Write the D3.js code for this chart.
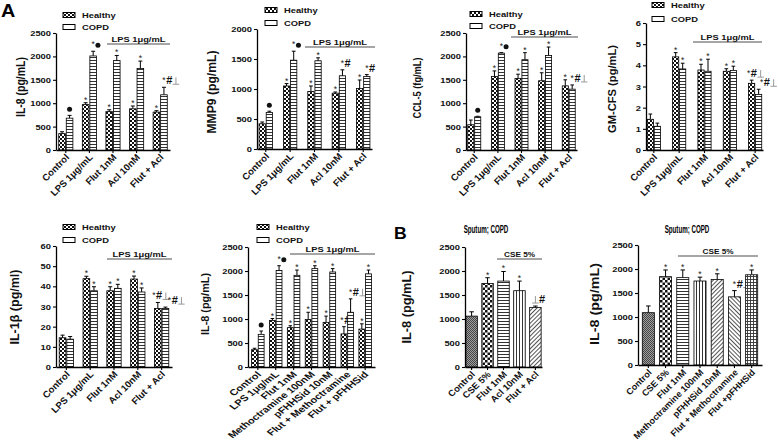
<!DOCTYPE html>
<html><head><meta charset="utf-8">
<script src="https://cdn.jsdelivr.net/npm/d3@7"></script>
<style>body{margin:0;background:#fff}svg{display:block}</style>
</head><body>
<svg id="c" width="778" height="446"></svg>
<script>
// ---------- DATA ----------
const catsA = ["Control","LPS 1μg/mL","Flut 1nM","Acl 10nM","Flut + Acl"];
const catsA6 = ["Control","LPS 1μg/mL","Flut 1nM","Methoctramine 100nM","pFHHSid 10nM","Flut + Methoctramine","Flut + pFHHSid"];
const catsB1 = ["Control","CSE 5%","Flut 1nM","Acl 10nM","Flut + Acl"];
const catsB2 = ["Control","CSE 5%","Flut 1nM","Methoctramine 100nM","pFHHSid 10nM","Flut + Methoctramine","Flut +pFHHSid"];
const seriesNames = ["Healthy","COPD"];

const il8Healthy = [350,970,820,880,810];
const il8HealthyErr = [40,40,40,60,30];
const il8Copd = [680,2010,1910,1740,1180];
const il8CopdErr = [60,100,110,160,160];
const il8HealthyMarks = ["","*","*","*","*"];
const il8CopdMarks = ["●","*●","*","*","*#⊥"];

const mmp9Healthy = [420,1050,960,930,1010];
const mmp9HealthyErr = [30,40,90,20,140];
const mmp9Copd = [610,1480,1470,1220,1210];
const mmp9CopdErr = [20,150,50,100,30];
const mmp9HealthyMarks = ["","*","*","*","*"];
const mmp9CopdMarks = ["●","*●","*","*#","*#"];

const ccl5Healthy = [540,1570,1530,1480,1370];
const ccl5HealthyErr = [100,120,90,170,130];
const ccl5Copd = [710,2070,1930,2020,1300];
const ccl5CopdErr = [10,10,150,180,90];
const ccl5HealthyMarks = ["","*","*","*","*"];
const ccl5CopdMarks = ["●","*●","*","*","*#⊥"];

const gmHealthy = [1.45,4.4,3.78,3.72,3.15];
const gmHealthyErr = [0.25,0.2,0.27,0.12,0.15];
const gmCopd = [1.12,3.83,3.72,3.76,2.62];
const gmCopdErr = [0.15,0.27,0.57,0.2,0.25];
const gmHealthyMarks = ["","*","*","*","*#⊥"];
const gmCopdMarks = ["","*","*","*","*#⊥"];

const il1bHealthy = [14.5,43.8,37.8,43.6,29];
const il1bHealthyErr = [1.3,1.2,2,1.5,3];
const il1bCopd = [13.8,37.8,39,37.2,29];
const il1bCopdErr = [1.3,2,2,2,0.7];
const il1bHealthyMarks = ["","*","*","*","*#⊥"];
const il1bCopdMarks = ["","*","*","*","*#⊥"];

const il8bHealthy = [360,970,820,990,930,690,790];
const il8bHealthyErr = [30,40,40,150,130,150,110];
const il8bCopd = [680,2010,1910,2050,1980,1140,1940];
const il8bCopdErr = [70,100,110,60,70,280,80];
const il8bHealthyMarks = ["","*","*","*","*","*#","*"];
const il8bCopdMarks = ["●","*●","*","*","*","*#⊥","*"];

const sputum1 = [1060,1740,1790,1590,1240];
const sputum1Err = [90,120,200,200,30];
const sputum1Marks = ["","*","*","*","⊥#"];

const sputum2 = [1090,1840,1820,1750,1780,1420,1880];
const sputum2Err = [140,140,160,80,120,130,100];
const sputum2Marks = ["","*","*","*","*","*#⊥","*"];

// ---------- LAYOUT ----------
const FONT = "'Liberation Sans', Arial, Helvetica, sans-serif";
const svg = d3.select("#c").attr("font-family", FONT);
const defs = svg.append("defs");
function pat(id, w, h, draw, tr) {
  const p = defs.append("pattern").attr("id", id).attr("patternUnits", "userSpaceOnUse")
    .attr("width", w).attr("height", h);
  if (tr) p.attr("patternTransform", tr);
  draw(p);
}
pat("healthy", 4, 4, p => {
  p.append("rect").attr("width", 4).attr("height", 4).attr("fill", "#111");
  p.append("rect").attr("width", 2).attr("height", 2).attr("fill", "#fff");
  p.append("rect").attr("x", 2).attr("y", 2).attr("width", 2).attr("height", 2).attr("fill", "#fff");
});
pat("checker", 5, 5, p => {
  p.append("rect").attr("width", 5).attr("height", 5).attr("fill", "#fff");
  p.append("rect").attr("width", 2.5).attr("height", 2.5).attr("fill", "#111");
  p.append("rect").attr("x", 2.5).attr("y", 2.5).attr("width", 2.5).attr("height", 2.5).attr("fill", "#111");
});
pat("horiz", 3, 3, p => {
  p.append("rect").attr("width", 3).attr("height", 3).attr("fill", "#fff");
  p.append("rect").attr("width", 3).attr("height", 1).attr("fill", "#333");
});
pat("vert", 3, 3, p => {
  p.append("rect").attr("width", 3).attr("height", 3).attr("fill", "#fff");
  p.append("rect").attr("width", 1).attr("height", 3).attr("fill", "#333");
});
pat("diag", 3, 3, p => {
  p.append("rect").attr("width", 3).attr("height", 3).attr("fill", "#fff");
  p.append("rect").attr("width", 1).attr("height", 3).attr("fill", "#555");
}, "rotate(45)");
pat("diag2", 3, 3, p => {
  p.append("rect").attr("width", 3).attr("height", 3).attr("fill", "#fff");
  p.append("rect").attr("width", 1).attr("height", 3).attr("fill", "#555");
}, "rotate(-45)");
pat("grid", 3, 3, p => {
  p.append("rect").attr("width", 3).attr("height", 3).attr("fill", "#fff");
  p.append("rect").attr("width", 3).attr("height", 0.9).attr("fill", "#333");
  p.append("rect").attr("width", 0.9).attr("height", 3).attr("fill", "#333");
});
pat("bctrl", 2, 2, p => {
  p.append("rect").attr("width", 2).attr("height", 2).attr("fill", "#a0a0a0");
  p.append("rect").attr("width", 1).attr("height", 1).attr("fill", "#444");
  p.append("rect").attr("x", 1).attr("y", 1).attr("width", 1).attr("height", 1).attr("fill", "#444");
});

const groupPanels = [
  {cats:catsA, h:il8Healthy, he:il8HealthyErr, c:il8Copd, ce:il8CopdErr, hm:il8HealthyMarks, cm:il8CopdMarks,
   left:56,right:170,top:33,bottom:150,ymax:2500,step:500,pi:0.4,po:0.116,
   ylabel:"IL-8 (pg/mL)", ylx:20, yly:87, yll:60, yls:13, leg:[63,15,27], br:[107,170,44,"LPS 1μg/mL"],
   xl:{size:9.5, sx:1.0}},
  {cats:catsA, h:mmp9Healthy, he:mmp9HealthyErr, c:mmp9Copd, ce:mmp9CopdErr, hm:mmp9HealthyMarks, cm:mmp9CopdMarks,
   left:257,right:372,top:29,bottom:149,ymax:2000,step:500,pi:0.45,po:0.085,
   ylabel:"MMP9 (pg/mL)", ylx:212, yly:92, yll:83, yls:12, leg:[265,10,23], br:[305,375,47,"LPS 1μg/mL"],
   xl:{size:9.5, sx:1.0}},
  {cats:catsA, h:ccl5Healthy, he:ccl5HealthyErr, c:ccl5Copd, ce:ccl5CopdErr, hm:ccl5HealthyMarks, cm:ccl5CopdMarks,
   left:466,right:577,top:33,bottom:150,ymax:2500,step:500,pi:0.45,po:0.075,
   ylabel:"CCL-5 (fg/mL)", ylx:417, yly:88, yll:61, yls:10.5, leg:[470,14,26], br:[511,578,37,"LPS 1μg/mL"],
   xl:{size:9.5, sx:1.0}},
  {cats:catsA, h:gmHealthy, he:gmHealthyErr, c:gmCopd, ce:gmCopdErr, hm:gmHealthyMarks, cm:gmCopdMarks,
   left:646,right:763,top:23,bottom:150,ymax:6,step:1,pi:0.48,po:0.05,
   ylabel:"GM-CFS (pg/mL)", ylx:612, yly:89, yll:88, yls:11, leg:[652,5,19], br:[693,762,42,"LPS 1μg/mL"],
   xl:{size:9.5, sx:1.0}, shiftH:[0,0,0,0,-3], shiftC:[0,0,0,0,3]},
  {cats:catsA, h:il1bHealthy, he:il1bHealthyErr, c:il1bCopd, ce:il1bCopdErr, hm:il1bHealthyMarks, cm:il1bCopdMarks,
   left:56,right:172,top:246,bottom:367,ymax:60,step:10,pi:0.4,po:0.135,
   ylabel:"IL-1β  (pg/ml)", ylx:15, yly:307, yll:75, yls:12, leg:[63,227,240], br:[107,172,259,"LPS 1μg/mL"],
   xl:{size:9.5, sx:1.0}, shiftH:[0,0,0,0,-4], shiftC:[0,0,0,0,4]},
  {cats:catsA6, h:il8bHealthy, he:il8bHealthyErr, c:il8bCopd, ce:il8bCopdErr, hm:il8bHealthyMarks, cm:il8bCopdMarks,
   left:248,right:375,top:247,bottom:367,ymax:2500,step:500,pi:0.3,po:0.2,
   ylabel:"IL-8 (pg/mL)", ylx:205, yly:304, yll:62, yls:10.5, leg:[257,227,240], br:[290,375,254,"LPS 1μg/mL"],
   xl:{size:8.6, sx:1.3}, shiftH:[0,0,0,0,0,-2,0]}
];
const singlePanels = [
  {cats:catsB1, v:sputum1, e:sputum1Err, m:sputum1Marks, pats:["bctrl","checker","horiz","vert","diag"],
   left:465,right:542,top:247,bottom:367,ymax:2500,step:500,pi:0.28,po:0.054,
   ylabel:"IL-8 (pg/mL)", ylx:406, yly:307, yll:73, yls:13, title:[486,232], br:[497,542,259,"CSE 5%"],
   xl:{size:9, sx:1.05}},
  {cats:catsB2, v:sputum2, e:sputum2Err, m:sputum2Marks, pats:["bctrl","checker","horiz","vert","diag","diag2","grid"],
   left:638,right:762,top:245,bottom:365,ymax:2500,step:500,pi:0.3,po:0.25,
   ylabel:"IL-8 (pg/mL)", ylx:595, yly:304, yll:82, yls:12, title:[687,232], br:[678,758,256,"CSE 5%"],
   xl:{size:9, sx:1.0}}
];

const SX = 1.28;
function htext(g, str, x, y, opt = {}) {
  const t = g.append("text").attr("transform", `translate(${x},${y}) scale(${opt.sx || SX},1)`)
    .attr("text-anchor", opt.anchor || "start").attr("font-size", opt.size || 7)
    .attr("font-weight", opt.weight || "bold").attr("fill", opt.fill || "#111").text(str);
  if (opt.len) t.attr("textLength", opt.len).attr("lengthAdjust", "spacingAndGlyphs");
  return t;
}

function marks(g, str, cx, yTop) {
  if (!str) return;
  const chars = Array.from(str);
  const widths = {"*": 4, "●": 5.5, "#": 6.5, "⊥": 7};
  const base = yTop - 3;
  let cur = cx - widths[chars[0]] / 2;
  chars.forEach(ch => {
    const w = widths[ch], mid = cur + w / 2;
    if (ch === "*") {
      g.append("text").attr("x", mid).attr("y", chars.length > 1 ? base - 1 : base + 3)
        .attr("text-anchor", "middle").attr("font-size", 8.5).attr("fill", "#222").text("*");
    } else if (ch === "●") {
      g.append("circle").attr("cx", mid).attr("cy", base - 3).attr("r", 2.5).attr("fill", "#111");
    } else if (ch === "#") {
      g.append("text").attr("x", mid).attr("y", base).attr("text-anchor", "middle")
        .attr("font-size", 11).attr("font-weight", "bold").attr("fill", "#111").text("#");
    } else if (ch === "⊥") {
      g.append("line").attr("x1", mid).attr("x2", mid).attr("y1", base - 7).attr("y2", base)
        .attr("stroke", "#999").attr("stroke-width", 1);
      g.append("line").attr("x1", mid - 3.2).attr("x2", mid + 3.2).attr("y1", base).attr("y2", base)
        .attr("stroke", "#999").attr("stroke-width", 1);
    }
    cur += w;
  });
}

function axes(g, p, x, y) {
  const yAx = d3.axisLeft(y).tickValues(d3.range(0, p.ymax + p.step / 2, p.step))
    .tickSize(3).tickSizeOuter(0).tickFormat(d3.format("d"));
  const ga = g.append("g").attr("transform", `translate(${p.left},0)`).call(yAx);
  ga.select(".domain").attr("stroke", "#000").attr("stroke-width", 1.3);
  ga.selectAll(".tick line").attr("stroke", "#000").attr("stroke-width", 1.1);
  ga.selectAll(".tick text").attr("font-family", FONT).attr("font-size", 7.3).attr("font-weight", "bold")
    .attr("fill", "#111").attr("x", -5 / SX).attr("dy", "0.35em").attr("transform", `scale(${SX},1)`);
  const xAx = d3.axisBottom(x).tickSize(3).tickSizeOuter(0);
  const gx = g.append("g").attr("transform", `translate(0,${p.bottom})`).call(xAx);
  gx.select(".domain").attr("stroke", "#000").attr("stroke-width", 1.3);
  gx.selectAll(".tick line").attr("stroke", "#000").attr("stroke-width", 1.1);
  gx.selectAll(".tick text").attr("font-family", FONT).attr("font-size", p.xl.size).attr("font-weight", "bold")
    .attr("fill", "#111").attr("x", 0).attr("y", 0).attr("dy", 0)
    .attr("transform", `translate(4,8) scale(${p.xl.sx},1) rotate(-45)`).style("text-anchor", "end");
  // y label
  g.append("text").attr("transform", `translate(${p.ylx},${p.yly}) rotate(-90)`)
    .attr("text-anchor", "middle").attr("dy", "0.35em").attr("font-size", p.yls).attr("font-weight", "bold")
    .attr("fill", "#111").attr("textLength", p.yll).attr("lengthAdjust", "spacingAndGlyphs").text(p.ylabel);
  // bracket
  const [bx1, bx2, by, bt] = p.br;
  g.append("line").attr("x1", bx1).attr("x2", bx2).attr("y1", by).attr("y2", by)
    .attr("stroke", "#888").attr("stroke-width", 1.3);
  htext(g, bt, (bx1 + bx2) / 2, by - 2.5, {anchor: "middle", size: 7.3, sx: bt.startsWith("CSE") ? 1.13 : SX});
}

function errBar(g, cx, yv, yt, bw) {
  const cw = Math.min(4.5, bw * 0.6);
  g.append("line").attr("x1", cx).attr("x2", cx).attr("y1", yv).attr("y2", yt).attr("stroke", "#000").attr("stroke-width", 1);
  g.append("line").attr("x1", cx - cw / 2).attr("x2", cx + cw / 2).attr("y1", yt).attr("y2", yt).attr("stroke", "#000").attr("stroke-width", 1);
}

groupPanels.forEach(p => {
  const g = svg.append("g");
  const y = d3.scaleLinear().domain([0, p.ymax]).range([p.bottom, p.top]);
  const x = d3.scaleBand().domain(p.cats).range([p.left, p.right]).paddingInner(p.pi).paddingOuter(p.po);
  const x1 = d3.scaleBand().domain(seriesNames).range([0, x.bandwidth()]).paddingInner(0.12);
  const bw = x1.bandwidth();
  const series = [
    {name: "Healthy", v: p.h, e: p.he, m: p.hm, fill: "url(#healthy)", sh: p.shiftH},
    {name: "COPD", v: p.c, e: p.ce, m: p.cm, fill: "url(#horiz)", sh: p.shiftC}
  ];
  series.forEach(s => {
    p.cats.forEach((cat, i) => {
      const bx = x(cat) + x1(s.name);
      const yv = y(s.v[i]);
      const yt = y(s.v[i] + s.e[i]);
      errBar(g, bx + bw / 2, yv, yt, bw);
      g.append("rect").attr("x", bx).attr("y", yv).attr("width", bw).attr("height", p.bottom - yv)
        .attr("fill", s.fill).attr("stroke", "#000").attr("stroke-width", 0.8);
      marks(g, s.m[i], bx + bw / 2 + (s.sh ? s.sh[i] : 0), yt);
    });
  });
  axes(g, p, x, y);
  // legend
  const [lx, ly1, ly2] = p.leg;
  [[series[0], ly1], [series[1], ly2]].forEach(([s, ly]) => {
    g.append("rect").attr("x", lx).attr("y", ly - 2.5).attr("width", 12).attr("height", 5)
      .attr("fill", s.name === "COPD" ? "#fff" : s.fill).attr("stroke", "#000").attr("stroke-width", 1);
    htext(g, s.name, lx + 19, ly + 2.7, {size: 7.3});
  });
});

singlePanels.forEach(p => {
  const g = svg.append("g");
  const y = d3.scaleLinear().domain([0, p.ymax]).range([p.bottom, p.top]);
  const x = d3.scaleBand().domain(p.cats).range([p.left, p.right]).paddingInner(p.pi).paddingOuter(p.po);
  const bw = x.bandwidth();
  p.cats.forEach((cat, i) => {
    const bx = x(cat);
    const yv = y(p.v[i]);
    const yt = y(p.v[i] + p.e[i]);
    errBar(g, bx + bw / 2, yv, yt, bw);
    g.append("rect").attr("x", bx).attr("y", yv).attr("width", bw).attr("height", p.bottom - yv)
      .attr("fill", `url(#${p.pats[i]})`).attr("stroke", "#000").attr("stroke-width", 0.8);
    marks(g, p.m[i], bx + bw / 2, yt);
  });
  axes(g, p, x, y);
  htext(g, "Sputum; COPD", p.title[0], p.title[1] + 0.5, {anchor: "middle", size: 10, sx: 0.62, fill: "#000"});
});

// panel letters
htext(svg, "A", 1, 17, {size: 18, sx: 1.1, fill: "#000"});
htext(svg, "B", 394, 239, {size: 16, sx: 1.1, fill: "#000"});
</script>
</body></html>
